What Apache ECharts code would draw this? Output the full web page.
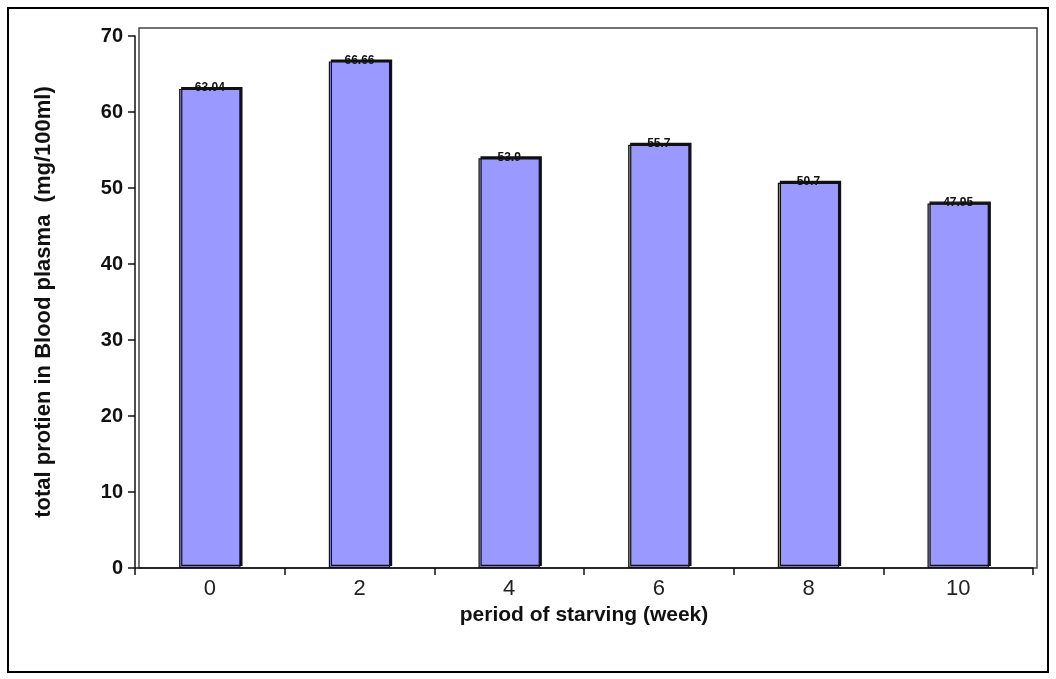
<!DOCTYPE html>
<html>
<head>
<meta charset="utf-8">
<script src="https://cdn.jsdelivr.net/npm/echarts@6/dist/echarts.min.js"></script>
<style>html,body{margin:0;padding:0;background:#fff}#c{width:1056px;height:679px}</style>
</head>
<body>
<div id="c"></div>
<script>
const categories = ['0', '2', '4', '6', '8', '10'];
const values = [63.04, 66.66, 53.9, 55.7, 50.7, 47.95];
const yTicks = [0, 10, 20, 30, 40, 50, 60, 70];

const chart = echarts.init(document.getElementById('c'));
chart.setOption({
  animation: false,
  backgroundColor: '#fff',
  textStyle: { fontFamily: 'Liberation Sans, Arial, sans-serif' },
  graphic: [{
    type: 'rect', shape: { x: 8, y: 8, width: 1040, height: 664 },
    style: { fill: 'none', stroke: '#000', lineWidth: 2 }, silent: true
  }, {
    type: 'rect', shape: { x: 139, y: 28, width: 898, height: 540 },
    style: { fill: 'none', stroke: '#444', lineWidth: 1.5 }, silent: true
  }],
  grid: {
    left: 135, right: 23, top: 36, bottom: 111
  },
  xAxis: {
    type: 'category', data: categories,
    name: 'period of starving (week)', nameLocation: 'middle', nameGap: 34,
    nameTextStyle: { fontSize: 21, fontWeight: 'bold', color: '#111' },
    axisLine: { lineStyle: { color: '#111', width: 1.5 } },
    axisTick: { show: true, alignWithLabel: false, length: 7, lineStyle: { color: '#111', width: 1.5 } },
    axisLabel: { fontSize: 22, color: '#222', margin: 10 }
  },
  yAxis: {
    type: 'value', min: 0, max: 70, interval: 10,
    name: 'total protien in Blood plasma  (mg/100ml)', nameLocation: 'middle', nameGap: 80,
    nameTextStyle: { fontSize: 22, fontWeight: 'bold', color: '#111' },
    axisLine: { show: true, lineStyle: { color: '#111', width: 1.5 } },
    axisTick: { show: true, length: 7, lineStyle: { color: '#111', width: 1.5 } },
    axisLabel: { fontSize: 20, fontWeight: 'bold', color: '#111', margin: 12,
      formatter: v => yTicks.includes(v) ? String(v) : '' },
    splitLine: { show: false }
  },
  series: [{
    type: 'bar', data: values, barWidth: '41%',
    itemStyle: {
      color: '#9999FF', borderColor: '#111', borderWidth: 1.2,
      shadowColor: '#111', shadowOffsetX: 2, shadowOffsetY: -2, shadowBlur: 0
    },
    label: {
      show: true, position: 'top', distance: -5,
      fontSize: 12, fontWeight: 'bold', color: '#111'
    }
  }]
});
</script>
</body>
</html>
